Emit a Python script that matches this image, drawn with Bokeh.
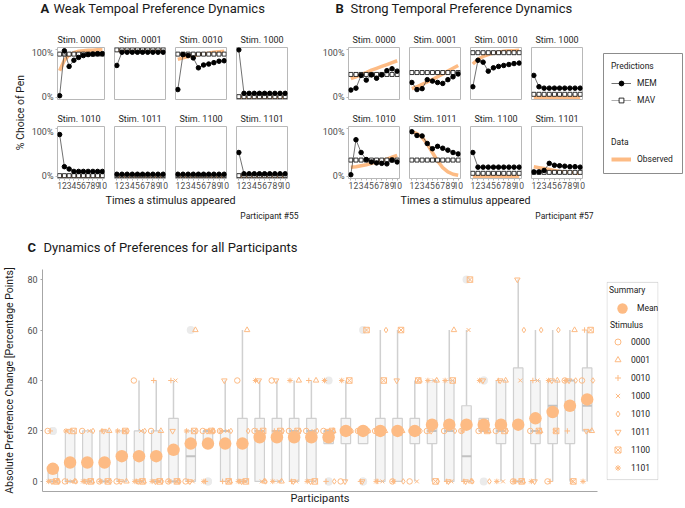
import numpy as np
from bokeh.plotting import figure
from bokeh.layouts import row, column
from bokeh.models import Range1d, FixedTicker, Label, Legend, LegendItem, BoxAnnotation
from bokeh.embed import file_html
from bokeh.resources import INLINE

FONT = "Roboto"
ORANGE = "#fdbb84"
TEXT = "#1a1a1a"
TICK_TEXT = "#4d4d4d"

# ---------------- data: panels A and B ----------------
TIMES = [1, 2, 3, 4, 5, 6, 7, 8, 9, 10]
STIMULI = ["0000", "0001", "0010", "1000", "1010", "1011", "1100", "1101"]

A_MEM = {
    "0000": [0.03, 0.98, 0.65, 0.78, 0.84, 0.88, 0.90, 0.91, 0.92, 0.92],
    "0001": [0.67, 0.95, 0.95, 0.95, 0.95, 0.95, 0.95, 0.95, 0.95, 0.95],
    "0010": [0.16, 0.90, 0.88, 0.83, 0.62, 0.68, 0.70, 0.73, 0.76, 0.77],
    "1000": [1.00, 0.08, 0.08, 0.08, 0.08, 0.08, 0.08, 0.08, 0.08, 0.08],
    "1010": [0.88, 0.20, 0.15, 0.10, 0.10, 0.10, 0.10, 0.10, 0.10, 0.10],
    "1011": [0.04, 0.04, 0.04, 0.04, 0.04, 0.04, 0.04, 0.04, 0.04, 0.04],
    "1100": [0.04, 0.04, 0.04, 0.04, 0.04, 0.04, 0.04, 0.04, 0.04, 0.04],
    "1101": [0.50, 0.05, 0.05, 0.05, 0.05, 0.05, 0.05, 0.05, 0.05, 0.05],
}
A_MAV = {
    "0000": [0.91] * 10, "0001": [1.00] * 10, "0010": [0.91] * 10, "1000": [0.01] * 10,
    "1010": [0.01] * 10, "1011": [0.01] * 10, "1100": [0.01] * 10, "1101": [0.01] * 10,
}
A_OBS = {
    "0000": [0.56, 0.78, 0.89, 0.94, 0.97, 0.98, 0.99, 0.99, 1.00, 1.00],
    "0001": [0.99, 0.99, 0.99, 0.99, 0.99, 0.99, 0.99, 0.99, 0.99, 0.99],
    "0010": [0.80, 0.83, 0.86, 0.88, 0.90, 0.92, 0.93, 0.95, 0.96, 0.97],
    "1000": [0.0] * 10, "1010": [0.0] * 10, "1011": [0.0] * 10,
    "1100": [0.0] * 10, "1101": [0.0] * 10,
}

B_MEM = {
    "0000": [0.15, 0.19, 0.46, 0.36, 0.47, 0.40, 0.47, 0.56, 0.60, 0.55],
    "0001": [0.31, 0.16, 0.18, 0.37, 0.34, 0.31, 0.29, 0.37, 0.43, 0.49],
    "0010": [0.22, 0.78, 0.74, 0.55, 0.62, 0.65, 0.67, 0.69, 0.71, 0.72],
    "1000": [0.46, 0.22, 0.19, 0.19, 0.19, 0.19, 0.19, 0.19, 0.19, 0.19],
    "1010": [0.03, 0.77, 0.50, 0.35, 0.30, 0.28, 0.27, 0.26, 0.34, 0.30],
    "1011": [0.94, 0.86, 0.85, 0.69, 0.58, 0.63, 0.59, 0.55, 0.50, 0.47],
    "1100": [0.50, 0.19, 0.19, 0.19, 0.19, 0.19, 0.19, 0.19, 0.19, 0.19],
    "1101": [0.09, 0.09, 0.12, 0.27, 0.23, 0.22, 0.21, 0.20, 0.20, 0.19],
}
B_MAV = {
    "0000": [0.48] * 10, "0001": [0.52] * 10, "0010": [0.94] * 10, "1000": [0.06] * 10,
    "1010": [0.34] * 10, "1011": [0.34] * 10, "1100": [0.06] * 10, "1101": [0.08] * 10,
}
B_OBS = {
    "0000": [0.39, 0.43, 0.48, 0.52, 0.57, 0.61, 0.65, 0.69, 0.73, 0.77],
    "0001": [0.18, 0.22, 0.27, 0.32, 0.37, 0.43, 0.49, 0.55, 0.61, 0.67],
    "0010": [0.70, 0.80, 0.86, 0.90, 0.93, 0.95, 0.97, 0.98, 0.98, 0.99],
    "1000": [0.0] * 10,
    "1010": [0.19, 0.20, 0.22, 0.24, 0.27, 0.30, 0.33, 0.36, 0.40, 0.44],
    "1011": [0.94, 0.90, 0.82, 0.68, 0.50, 0.32, 0.18, 0.09, 0.04, 0.02],
    "1100": [0.0] * 10,
    "1101": [0.20, 0.18, 0.16, 0.14, 0.12, 0.10, 0.09, 0.08, 0.07, 0.06],
}

# ---------------- data: panel C (absolute preference change per participant) ----------------
PARTICIPANTS = list(range(1, 33))
C_0000 = [20, 0, 20, 0, 0, 40, 20, 0, 0, 20, 20, 40, 20, 40, 20, 20, 20, 0, 20, 20, 0, 0, 20, 20, 20, 20, 20, 0, 20, 0, 40, 40]
C_0001 = [0, 0, 0, 20, 0, 0, 20, 0, 60, 20, 0, 60, 0, 0, 40, 40, 20, 20, 20, 20, 20, 40, 40, 60, 0, 20, 40, 0, 20, 40, 60, 20]
C_0010 = [20, 0, 0, 20, 0, 0, 40, 40, 0, 0, 0, 0, 20, 20, 0, 40, 0, 20, 0, 0, 20, 20, 20, 0, 0, 20, 40, 0, 40, 0, 20, 60]
C_1000 = [0, 0, 20, 0, 20, 20, 0, 40, 0, 20, 20, 0, 0, 0, 0, 20, 20, 20, 20, 0, 20, 0, 40, 0, 60, 20, 0, 40, 40, 20, 0, 20]
C_1010 = [0, 0, 20, 0, 20, 20, 0, 0, 20, 20, 20, 20, 0, 20, 20, 20, 0, 20, 20, 60, 0, 20, 0, 20, 0, 0, 20, 60, 60, 60, 40, 40]
C_1011 = [0, 20, 0, 20, 0, 0, 0, 20, 0, 20, 40, 0, 40, 40, 0, 0, 20, 0, 0, 20, 40, 20, 20, 0, 0, 40, 40, 80, 0, 40, 40, 20]
C_1100 = [0, 20, 0, 0, 20, 0, 0, 0, 20, 20, 0, 0, 20, 20, 20, 0, 20, 40, 60, 40, 60, 40, 0, 40, 80, 20, 20, 0, 20, 20, 0, 60]
C_1101 = [0, 20, 0, 0, 20, 0, 0, 0, 20, 0, 20, 0, 40, 0, 40, 0, 40, 40, 20, 0, 0, 20, 40, 40, 20, 40, 0, 0, 0, 40, 40, 0]
C_TICKS = [0, 20, 40, 60, 80]

# ---------------- styling constants ----------------
MARKERS = ["circle", "triangle", "cross", "x", "diamond", "inverted_triangle", "square_x", "asterisk"]
JITTER = [-0.30, 0.27, -0.15, 0.12, 0.33, -0.05, 0.20, -0.24]
FRAME_W, FRAME_H = 51, 52
PANEL_BORDER = "#b8b8b8"
MEM_LINE = "#333333"
MAV_LINE = "#777777"
LEGEND_BORDER = "#8c8c8c"


def text_fig(w, h):
    f = figure(width=w, height=h, x_range=Range1d(0, w), y_range=Range1d(0, h),
               x_axis_type=None, y_axis_type=None, min_border=0,
               toolbar_location=None, output_backend="svg")
    f.outline_line_color = None
    return f


def add_text(f, x, y, text, size, bold=False, align="left", angle=0.0, color=TEXT):
    f.add_layout(Label(x=x, y=y, text=text, text_font=FONT, text_font_size=f"{size}px",
                       text_font_style="bold" if bold else "normal", text_align=align,
                       text_baseline="middle", angle=angle, text_color=color))


def small_fig(mem, mav, obs, left, right, bottom, show_y, show_x):
    f = figure(width=left + FRAME_W + right, height=FRAME_H + bottom,
               x_range=Range1d(0.55, 10.45), y_range=Range1d(-0.05, 1.05),
               x_axis_location="below" if show_x else None,
               y_axis_location="left" if show_y else None,
               min_border_left=left, min_border_right=right,
               min_border_top=0, min_border_bottom=bottom,
               toolbar_location=None, output_backend="svg")
    f.xgrid.grid_line_color = None
    f.ygrid.grid_line_color = None
    f.outline_line_color = PANEL_BORDER
    f.outline_line_width = 1
    if show_y:
        ax = f.yaxis[0]
        ax.ticker = FixedTicker(ticks=[0, 1])
        ax.major_label_overrides = {0: "0%", 1: "100%"}
        ax.axis_line_color = None
        ax.major_tick_out = 2
        ax.major_tick_in = 0
        ax.major_tick_line_color = PANEL_BORDER
        ax.minor_tick_line_color = None
        ax.major_label_standoff = 2
        ax.major_label_text_font = FONT
        ax.major_label_text_font_size = "9px"
        ax.major_label_text_color = TICK_TEXT
    if show_x:
        ax = f.xaxis[0]
        ax.ticker = FixedTicker(ticks=TIMES)
        ax.axis_line_color = None
        ax.major_tick_out = 2
        ax.major_tick_in = 0
        ax.major_tick_line_color = PANEL_BORDER
        ax.minor_tick_line_color = None
        ax.major_label_standoff = 1
        ax.major_label_text_font = FONT
        ax.major_label_text_font_size = "8.5px"
        ax.major_label_text_color = TICK_TEXT
    f.line(TIMES, obs, line_color=ORANGE, line_width=3.5)
    f.line(TIMES, mav, line_color=MAV_LINE, line_width=0.6)
    f.scatter(TIMES, mav, marker="square", size=4, fill_color="white",
              line_color="black", line_width=0.8)
    f.line(TIMES, mem, line_color=MEM_LINE, line_width=0.7)
    f.scatter(TIMES, mem, marker="circle", size=4.5, fill_color="black", line_color="black")
    return f


def panel_grid(mem_d, mav_d, obs_d, col_specs):
    strip_w = sum(l + FRAME_W + r for l, r in col_specs)
    parts = []
    for r_i in range(2):
        strip_h = 17 if r_i == 0 else 18
        strip = text_fig(strip_w, strip_h)
        offset = 0
        figs = []
        for c_i in range(4):
            stim = STIMULI[r_i * 4 + c_i]
            left, right = col_specs[c_i]
            add_text(strip, offset + left + FRAME_W / 2, strip_h - 8 - (1 if r_i == 0 else 2),
                     f"Stim. {stim}", 9, align="center", color="#262626")
            offset += left + FRAME_W + right
            bottom = 9 if r_i == 0 else 16
            figs.append(small_fig(mem_d[stim], mav_d[stim], obs_d[stim],
                                  left, right, bottom, show_y=(c_i == 0), show_x=(r_i == 1)))
        parts.append(strip)
        parts.append(row(*figs))
    return column(*parts)


# ---------------- panel A ----------------
titleA = text_fig(300, 30)
add_text(titleA, 40, 22, "A", 13, bold=True)
add_text(titleA, 53, 22, "Weak Tempoal Preference Dynamics", 13)
ylabA = text_fig(28, 164)
add_text(ylabA, 20, 82, "% Choice of Pen", 10.5, align="center", angle=np.pi / 2)
gridA = panel_grid(A_MEM, A_MAV, A_OBS, [(25, 5), (5, 5), (5, 5), (5, 13)])
xlabA = text_fig(300, 28)
add_text(xlabA, 170, 22, "Times a stimulus appeared", 10.8, align="center")
add_text(xlabA, 298, 7, "Participant #55", 8.5, align="right")
colA = column(titleA, row(ylabA, gridA), xlabA)

# ---------------- panel B ----------------
titleB = text_fig(300, 30)
add_text(titleB, 35, 22, "B", 13, bold=True)
add_text(titleB, 50, 22, "Strong Temporal Preference Dynamics", 13)
gridB = panel_grid(B_MEM, B_MAV, B_OBS, [(48, 5), (5, 5), (5, 5), (5, 18)])
xlabB = text_fig(300, 28)
add_text(xlabB, 165, 22, "Times a stimulus appeared", 10.8, align="center")
add_text(xlabB, 293, 7, "Participant #57", 8.5, align="right")
colB = column(titleB, gridB, xlabB)


def style_legend(leg, glyph_w, glyph_h, spacing, padding, standoff, margin):
    leg.title_text_font = FONT
    leg.title_text_font_size = "8.5px"
    leg.title_text_font_style = "normal"
    leg.title_text_color = TEXT
    leg.label_text_font = FONT
    leg.label_text_font_size = "8.5px"
    leg.label_text_color = TEXT
    leg.glyph_width = glyph_w
    leg.glyph_height = glyph_h
    leg.label_height = 12
    leg.label_width = 10
    leg.spacing = spacing
    leg.padding = padding
    leg.margin = margin
    leg.label_standoff = standoff
    leg.border_line_color = None
    leg.background_fill_alpha = 0


# ---------------- legend for A/B ----------------
lab = figure(width=84, height=222, x_range=Range1d(0.55, 10.45), y_range=Range1d(-0.05, 1.05),
             x_axis_type=None, y_axis_type=None,
             min_border_left=3, min_border_right=2, min_border_top=53, min_border_bottom=49,
             toolbar_location=None, output_backend="svg")
lab.outline_line_color = LEGEND_BORDER
r_mem_l = lab.line(TIMES, A_MEM["0000"], line_color=MEM_LINE, line_width=0.7, visible=False)
r_mem_p = lab.scatter(TIMES, A_MEM["0000"], marker="circle", fill_color="black",
                      line_color="black", visible=False)
r_mav_l = lab.line(TIMES, A_MAV["0000"], line_color=MAV_LINE, line_width=0.6, visible=False)
r_mav_p = lab.scatter(TIMES, A_MAV["0000"], marker="square", fill_color="white",
                      line_color="black", line_width=0.8, visible=False)
r_obs = lab.line(TIMES, A_OBS["0000"], line_color=ORANGE, line_width=4, visible=False)

leg_pred = Legend(items=[LegendItem(label="MEM", renderers=[r_mem_l, r_mem_p]),
                         LegendItem(label="MAV", renderers=[r_mav_l, r_mav_p])],
                  title="Predictions", location="top_left")
style_legend(leg_pred, 20, 12, 5, 8, 6, 8)
leg_pred.title_standoff = 6
leg_data = Legend(items=[LegendItem(label="Observed", renderers=[r_obs])],
                  title="Data", location="bottom_left")
style_legend(leg_data, 20, 12, 5, 8, 6, 8)
leg_data.title_standoff = 6
lab.add_layout(leg_pred, "center")
lab.add_layout(leg_data, "center")

top_section = row(colA, colB, lab)

# ---------------- panel C ----------------
vals = np.array([C_0000, C_0001, C_0010, C_1000, C_1010, C_1011, C_1100, C_1101], dtype=float)
xs = np.array(PARTICIPANTS, dtype=float)
means = vals.mean(axis=0)
q1, med, q3 = np.percentile(vals, [25, 50, 75], axis=0)
iqr = q3 - q1
lo_w, hi_w, out_x, out_y = [], [], [], []
for j in range(len(PARTICIPANTS)):
    v = vals[:, j]
    inside = v[(v >= q1[j] - 1.5 * iqr[j]) & (v <= q3[j] + 1.5 * iqr[j])]
    lo_w.append(inside.min())
    hi_w.append(inside.max())
    for o in v[(v < q1[j] - 1.5 * iqr[j]) | (v > q3[j] + 1.5 * iqr[j])]:
        out_x.append(xs[j])
        out_y.append(o)

titleC = text_fig(684, 35)
add_text(titleC, 27, 10, "C", 13, bold=True)
add_text(titleC, 43, 10, "Dynamics of Preferences for all Participants", 13)

C_TOP, C_BOTTOM, C_HEIGHT = 12, 14, 250
c = figure(width=600, height=C_HEIGHT, x_range=Range1d(0.4, 32.6), y_range=Range1d(-4, 84),
           min_border_left=42, min_border_right=3, min_border_top=C_TOP, min_border_bottom=C_BOTTOM,
           toolbar_location=None, output_backend="svg")
c.xgrid.grid_line_color = None
c.ygrid.grid_line_color = None
c.outline_line_color = None
AXIS_GREY = "#a6a6a6"
cy = c.yaxis[0]
cy.ticker = FixedTicker(ticks=C_TICKS)
cy.axis_line_color = AXIS_GREY
cy.major_tick_out = 2
cy.major_tick_in = 0
cy.major_tick_line_color = AXIS_GREY
cy.minor_tick_line_color = None
cy.major_label_standoff = 3
cy.major_label_text_font = FONT
cy.major_label_text_font_size = "9px"
cy.major_label_text_color = TICK_TEXT
cy.axis_label = "Absolute Preference Change [Percentage Points]"
cy.axis_label_text_font = FONT
cy.axis_label_text_font_size = "10.5px"
cy.axis_label_text_font_style = "normal"
cy.axis_label_text_color = TEXT
cy.axis_label_standoff = 8
cx = c.xaxis[0]
cx.ticker = FixedTicker(ticks=[])
cx.axis_line_color = AXIS_GREY
cx.major_tick_out = 0
cx.major_tick_in = 0
cx.major_label_standoff = 0
cx.major_tick_line_color = None
cx.minor_tick_line_color = None
cx.axis_label = "Participants"
cx.axis_label_text_font = FONT
cx.axis_label_text_font_size = "11px"
cx.axis_label_text_font_style = "normal"
cx.axis_label_text_color = TEXT
cx.axis_label_standoff = 0

BOX_LINE = "#d0d0d0"
c.segment(x0=xs, y0=q3, x1=xs, y1=hi_w, line_color=BOX_LINE, line_width=1.5)
c.segment(x0=xs, y0=q1, x1=xs, y1=lo_w, line_color=BOX_LINE, line_width=1.5)
c.vbar(x=xs, width=0.55, bottom=q1, top=q3, fill_color="#f5f5f5", line_color=BOX_LINE, line_width=1.2)
c.segment(x0=xs - 0.275, y0=med, x1=xs + 0.275, y1=med, line_color="#c2c2c2", line_width=2)
c.scatter(out_x, out_y, marker="circle", size=8, fill_color="#ebebeb", line_color=None)
for i, stim in enumerate(STIMULI):
    c.scatter(xs + JITTER[i], vals[i], marker=MARKERS[i], size=5.5, fill_color=None,
              line_color=ORANGE, line_width=1)
c.scatter(xs, means, marker="circle", size=12.5, fill_color=ORANGE, line_color=None)

# ---------------- legend for C ----------------
LC_W = 52
LC_FRAME_H = C_HEIGHT - C_TOP - C_BOTTOM
lc = figure(width=84, height=C_HEIGHT, x_range=Range1d(0, LC_W), y_range=Range1d(0, LC_FRAME_H),
            x_axis_type=None, y_axis_type=None,
            min_border_left=6, min_border_right=84 - 6 - LC_W,
            min_border_top=C_TOP, min_border_bottom=C_BOTTOM,
            toolbar_location=None, output_backend="svg")
lc.outline_line_color = None
# legend frame box (annotation in the legend panel's pixel space)
lc.add_layout(BoxAnnotation(left=0.5, right=LC_W - 0.5, bottom=12, top=LC_FRAME_H - 13,
                            fill_alpha=0, line_color=LEGEND_BORDER, line_width=1))
r_mean = lc.scatter(xs, means, marker="circle", fill_color=ORANGE, line_color=None, visible=False)
stim_items = []
for i, stim in enumerate(STIMULI):
    r = lc.scatter(xs, vals[i], marker=MARKERS[i], fill_color=None, line_color=ORANGE,
                   line_width=1, visible=False)
    stim_items.append(LegendItem(label=stim, renderers=[r]))
leg_sum = Legend(items=[LegendItem(label="Mean", renderers=[r_mean])], title="Summary",
                 location=(3, 170))
style_legend(leg_sum, 26, 26, 0, 3, 2, 0)
leg_sum.title_standoff = 0
leg_stim = Legend(items=stim_items, title="Stimulus", location=(4, 16))
style_legend(leg_stim, 15, 15, 3, 5, 6, 0)
leg_stim.title_standoff = 4
lc.add_layout(leg_sum, "center")
lc.add_layout(leg_stim, "center")

bottom_section = column(titleC, row(c, lc))
layout = column(top_section, bottom_section)

open("out.html", "w").write(file_html(layout, INLINE, title="Preference dynamics"))
